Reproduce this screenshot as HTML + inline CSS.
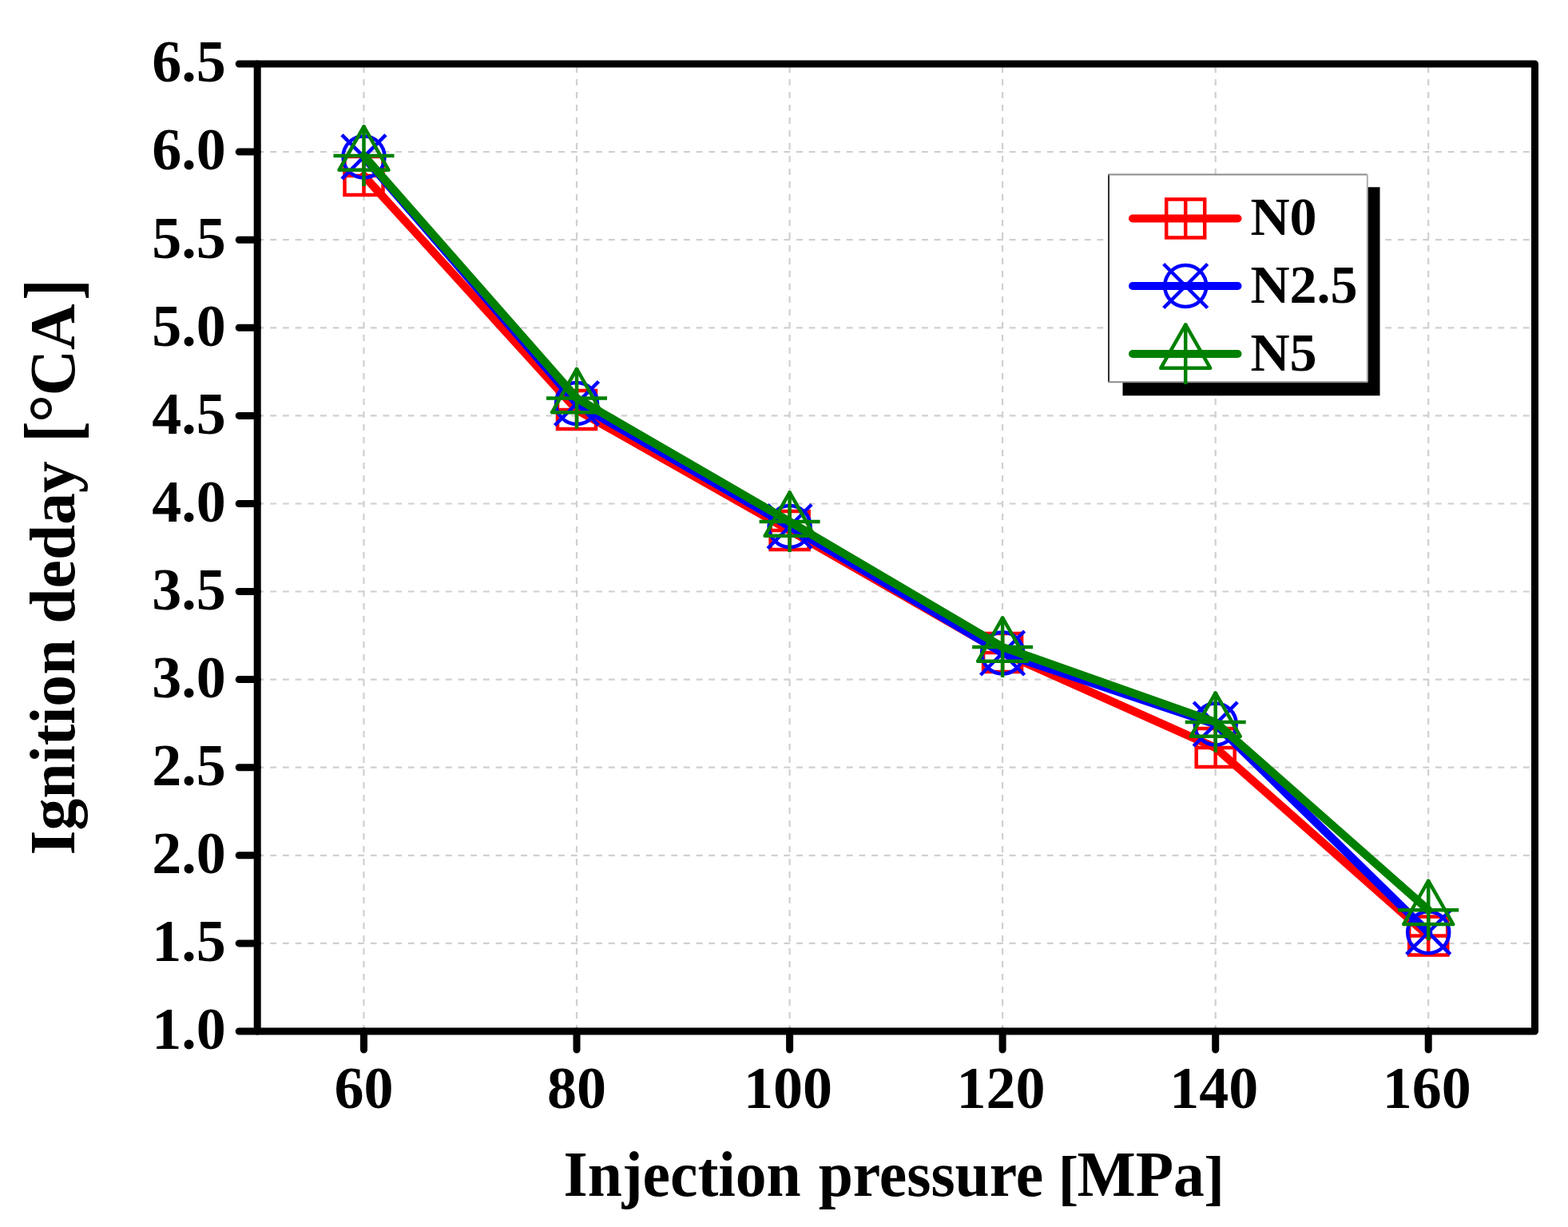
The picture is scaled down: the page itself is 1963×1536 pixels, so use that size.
<!DOCTYPE html>
<html><head><meta charset="utf-8"><title>Ignition delay vs injection pressure</title>
<style>
html,body{margin:0;padding:0;background:#fff;overflow:hidden;}
svg{display:block;}
text{font-family:"Liberation Serif","Times New Roman",serif;font-weight:bold;fill:#000;}
.t{font-size:74px;}
.xt{font-size:80.5px;}
.yt{font-size:79.6px;}
.lg{font-size:68px;}
.g{stroke:#d0d0d0;stroke-width:2.2;stroke-dasharray:8 8;fill:none;}
.gh{stroke:#d0d0d0;stroke-width:2.2;stroke-dasharray:7.84 7.845;stroke-dashoffset:-0.4;fill:none;}
</style></head>
<body>
<svg width="1963" height="1536" viewBox="0 0 1963 1536">
<rect width="1963" height="1536" fill="#fff"/>
<line x1="455.5" y1="1291.0" x2="455.5" y2="80.0" class="g"/>
<line x1="722.0" y1="1291.0" x2="722.0" y2="80.0" class="g"/>
<line x1="988.6" y1="1291.0" x2="988.6" y2="80.0" class="g"/>
<line x1="1255.1" y1="1291.0" x2="1255.1" y2="80.0" class="g"/>
<line x1="1521.7" y1="1291.0" x2="1521.7" y2="80.0" class="g"/>
<line x1="1788.2" y1="1291.0" x2="1788.2" y2="80.0" class="g"/>
<line x1="322.2" y1="1180.9" x2="1921.5" y2="1180.9" class="gh"/>
<line x1="322.2" y1="1070.8" x2="1921.5" y2="1070.8" class="gh"/>
<line x1="322.2" y1="960.7" x2="1921.5" y2="960.7" class="gh"/>
<line x1="322.2" y1="850.6" x2="1921.5" y2="850.6" class="gh"/>
<line x1="322.2" y1="740.5" x2="1921.5" y2="740.5" class="gh"/>
<line x1="322.2" y1="630.5" x2="1921.5" y2="630.5" class="gh"/>
<line x1="322.2" y1="520.4" x2="1921.5" y2="520.4" class="gh"/>
<line x1="322.2" y1="410.3" x2="1921.5" y2="410.3" class="gh"/>
<line x1="322.2" y1="300.2" x2="1921.5" y2="300.2" class="gh"/>
<line x1="322.2" y1="190.1" x2="1921.5" y2="190.1" class="gh"/>
<polyline points="455.5,220.0 722.0,513.0 988.6,664.0 1255.1,817.0 1521.7,936.0 1788.2,1171.5" fill="none" stroke="#ff0000" stroke-width="10.3" stroke-linejoin="round" stroke-linecap="round"/><rect x="431.5" y="196.0" width="48" height="48" fill="none" stroke="#ff0000" stroke-width="4.5"/><path d="M455.5 196.0V244.0M431.5 220.0H479.5" stroke="#ff0000" stroke-width="4.5"/><rect x="698.0" y="489.0" width="48" height="48" fill="none" stroke="#ff0000" stroke-width="4.5"/><path d="M722.0 489.0V537.0M698.0 513.0H746.0" stroke="#ff0000" stroke-width="4.5"/><rect x="964.6" y="640.0" width="48" height="48" fill="none" stroke="#ff0000" stroke-width="4.5"/><path d="M988.6 640.0V688.0M964.6 664.0H1012.6" stroke="#ff0000" stroke-width="4.5"/><rect x="1231.1" y="793.0" width="48" height="48" fill="none" stroke="#ff0000" stroke-width="4.5"/><path d="M1255.1 793.0V841.0M1231.1 817.0H1279.1" stroke="#ff0000" stroke-width="4.5"/><rect x="1497.7" y="912.0" width="48" height="48" fill="none" stroke="#ff0000" stroke-width="4.5"/><path d="M1521.7 912.0V960.0M1497.7 936.0H1545.7" stroke="#ff0000" stroke-width="4.5"/><rect x="1764.2" y="1147.5" width="48" height="48" fill="none" stroke="#ff0000" stroke-width="4.5"/><path d="M1788.2 1147.5V1195.5M1764.2 1171.5H1812.2" stroke="#ff0000" stroke-width="4.5"/>
<polyline points="455.5,196.4 722.0,505.0 988.6,659.0 1255.1,817.5 1521.7,906.5 1788.2,1167.2" fill="none" stroke="#0000ff" stroke-width="10.3" stroke-linejoin="round" stroke-linecap="round"/><circle cx="455.5" cy="196.4" r="26" fill="none" stroke="#0000ff" stroke-width="4.5"/><path d="M428.0 168.9L483.0 223.9M483.0 168.9L428.0 223.9" stroke="#0000ff" stroke-width="4.5"/><circle cx="722.0" cy="505.0" r="26" fill="none" stroke="#0000ff" stroke-width="4.5"/><path d="M694.5 477.5L749.5 532.5M749.5 477.5L694.5 532.5" stroke="#0000ff" stroke-width="4.5"/><circle cx="988.6" cy="659.0" r="26" fill="none" stroke="#0000ff" stroke-width="4.5"/><path d="M961.1 631.5L1016.1 686.5M1016.1 631.5L961.1 686.5" stroke="#0000ff" stroke-width="4.5"/><circle cx="1255.1" cy="817.5" r="26" fill="none" stroke="#0000ff" stroke-width="4.5"/><path d="M1227.6 790.0L1282.6 845.0M1282.6 790.0L1227.6 845.0" stroke="#0000ff" stroke-width="4.5"/><circle cx="1521.7" cy="906.5" r="26" fill="none" stroke="#0000ff" stroke-width="4.5"/><path d="M1494.2 879.0L1549.2 934.0M1549.2 879.0L1494.2 934.0" stroke="#0000ff" stroke-width="4.5"/><circle cx="1788.2" cy="1167.2" r="26" fill="none" stroke="#0000ff" stroke-width="4.5"/><path d="M1760.7 1139.7L1815.7 1194.7M1815.7 1139.7L1760.7 1194.7" stroke="#0000ff" stroke-width="4.5"/>
<polyline points="455.5,195.0 722.0,498.5 988.6,653.0 1255.1,810.0 1521.7,904.0 1788.2,1139.2" fill="none" stroke="#008000" stroke-width="10.3" stroke-linejoin="round" stroke-linecap="round"/><path d="M455.5 158.4L486.5 212.8H424.5Z" fill="none" stroke="#008000" stroke-width="4.5" stroke-linejoin="round"/><path d="M455.5 157.0V233.0M417.5 195.0H493.5" stroke="#008000" stroke-width="4.5"/><path d="M722.0 461.9L753.0 516.3H691.0Z" fill="none" stroke="#008000" stroke-width="4.5" stroke-linejoin="round"/><path d="M722.0 460.5V536.5M684.0 498.5H760.0" stroke="#008000" stroke-width="4.5"/><path d="M988.6 616.4L1019.6 670.8H957.6Z" fill="none" stroke="#008000" stroke-width="4.5" stroke-linejoin="round"/><path d="M988.6 615.0V691.0M950.6 653.0H1026.6" stroke="#008000" stroke-width="4.5"/><path d="M1255.1 773.4L1286.1 827.8H1224.1Z" fill="none" stroke="#008000" stroke-width="4.5" stroke-linejoin="round"/><path d="M1255.1 772.0V848.0M1217.1 810.0H1293.1" stroke="#008000" stroke-width="4.5"/><path d="M1521.7 867.4L1552.7 921.8H1490.7Z" fill="none" stroke="#008000" stroke-width="4.5" stroke-linejoin="round"/><path d="M1521.7 866.0V942.0M1483.7 904.0H1559.7" stroke="#008000" stroke-width="4.5"/><path d="M1788.2 1102.6L1819.2 1157.0H1757.2Z" fill="none" stroke="#008000" stroke-width="4.5" stroke-linejoin="round"/><path d="M1788.2 1101.2V1177.2M1750.2 1139.2H1826.2" stroke="#008000" stroke-width="4.5"/>
<rect x="322.2" y="80.0" width="1599.3" height="1211.0" fill="none" stroke="#000" stroke-width="9.0" stroke-linejoin="round"/>
<path d="M299.2 1291.0H322.2M299.2 1180.9H322.2M299.2 1070.8H322.2M299.2 960.7H322.2M299.2 850.6H322.2M299.2 740.5H322.2M299.2 630.5H322.2M299.2 520.4H322.2M299.2 410.3H322.2M299.2 300.2H322.2M299.2 190.1H322.2M299.2 80.0H322.2M455.5 1291.0V1314.0M722.0 1291.0V1314.0M988.6 1291.0V1314.0M1255.1 1291.0V1314.0M1521.7 1291.0V1314.0M1788.2 1291.0V1314.0" stroke="#000" stroke-width="9.0" stroke-linecap="round"/>
<text x="282.8" y="1313.3" class="t" text-anchor="end">1.0</text>
<text x="282.8" y="1203.2" class="t" text-anchor="end">1.5</text>
<text x="282.8" y="1093.1" class="t" text-anchor="end">2.0</text>
<text x="282.8" y="983.0" class="t" text-anchor="end">2.5</text>
<text x="282.8" y="872.9" class="t" text-anchor="end">3.0</text>
<text x="282.8" y="762.8" class="t" text-anchor="end">3.5</text>
<text x="282.8" y="652.8" class="t" text-anchor="end">4.0</text>
<text x="282.8" y="542.7" class="t" text-anchor="end">4.5</text>
<text x="282.8" y="432.6" class="t" text-anchor="end">5.0</text>
<text x="282.8" y="322.5" class="t" text-anchor="end">5.5</text>
<text x="282.8" y="212.4" class="t" text-anchor="end">6.0</text>
<text x="282.8" y="102.3" class="t" text-anchor="end">6.5</text>
<text x="455.5" y="1386.5" class="t" text-anchor="middle">60</text>
<text x="722.0" y="1386.5" class="t" text-anchor="middle">80</text>
<text x="986.6" y="1386.5" class="t" text-anchor="middle">100</text>
<text x="1253.1" y="1386.5" class="t" text-anchor="middle">120</text>
<text x="1519.7" y="1386.5" class="t" text-anchor="middle">140</text>
<text x="1786.2" y="1386.5" class="t" text-anchor="middle">160</text>
<g transform="translate(705.5 1496.7) scale(0.963 1)"><text x="0" y="0" class="xt">Injection</text><text x="331.5" y="0" class="xt">pressure</text><text transform="matrix(1 0 0 0.94 0 3.35)" x="642.8" y="0" class="xt">[</text><text x="667.7" y="0" class="xt">MPa</text><text transform="matrix(1 0 0 0.94 0 3.35)" x="832.5" y="0" class="xt">]</text></g>
<g transform="translate(92.5 1070.4) rotate(-90)"><text x="0" y="0" class="yt">Ignition deday</text><text transform="translate(0 -22.3) scale(1 1.235) translate(0 22.3)" x="516.7" y="0" class="yt">[</text><text x="541.1" y="4.3" class="yt" style="font-size:89px">°</text><text x="574.9" y="0" class="yt">CA</text><text transform="translate(0 -22.3) scale(1 1.235) translate(0 22.3)" x="694.6" y="0" class="yt">]</text></g>
<rect x="1405.5" y="234.3" width="322" height="261" fill="#000"/>
<rect x="1388.0" y="218.5" width="323.8" height="259.7" fill="#fff"/>
<path d="M1388.0 218.5V478.2" stroke="#2e2e2e" stroke-width="2"/>
<path d="M1387.0 218.5H1711.8M1387.0 478.2H1711.8" stroke="#8c8c8c" stroke-width="2"/>
<path d="M1711.8 218.5V478.2" stroke="#b0b0b0" stroke-width="2"/>
<line x1="1418" y1="273.5" x2="1549.5" y2="273.5" stroke="#ff0000" stroke-width="10" stroke-linecap="round"/>
<rect x="1460.2" y="249.5" width="48" height="48" fill="none" stroke="#ff0000" stroke-width="4.5"/><path d="M1484.2 249.5V297.5M1460.2 273.5H1508.2" stroke="#ff0000" stroke-width="4.5"/>
<text x="1565.5" y="294.3" class="lg">N0</text>
<line x1="1418" y1="358.0" x2="1549.5" y2="358.0" stroke="#0000ff" stroke-width="10" stroke-linecap="round"/>
<circle cx="1484.2" cy="358.0" r="26" fill="none" stroke="#0000ff" stroke-width="4.5"/><path d="M1456.7 330.5L1511.7 385.5M1511.7 330.5L1456.7 385.5" stroke="#0000ff" stroke-width="4.5"/>
<text x="1565.5" y="378.8" class="lg">N2.5</text>
<line x1="1418" y1="443.0" x2="1549.5" y2="443.0" stroke="#008000" stroke-width="10" stroke-linecap="round"/>
<path d="M1484.2 406.4L1515.2 460.8H1453.2Z" fill="none" stroke="#008000" stroke-width="4.5" stroke-linejoin="round"/><path d="M1484.2 405.0V481.0M1446.2 443.0H1522.2" stroke="#008000" stroke-width="4.5"/>
<text x="1565.5" y="463.8" class="lg">N5</text>
</svg>
</body></html>
